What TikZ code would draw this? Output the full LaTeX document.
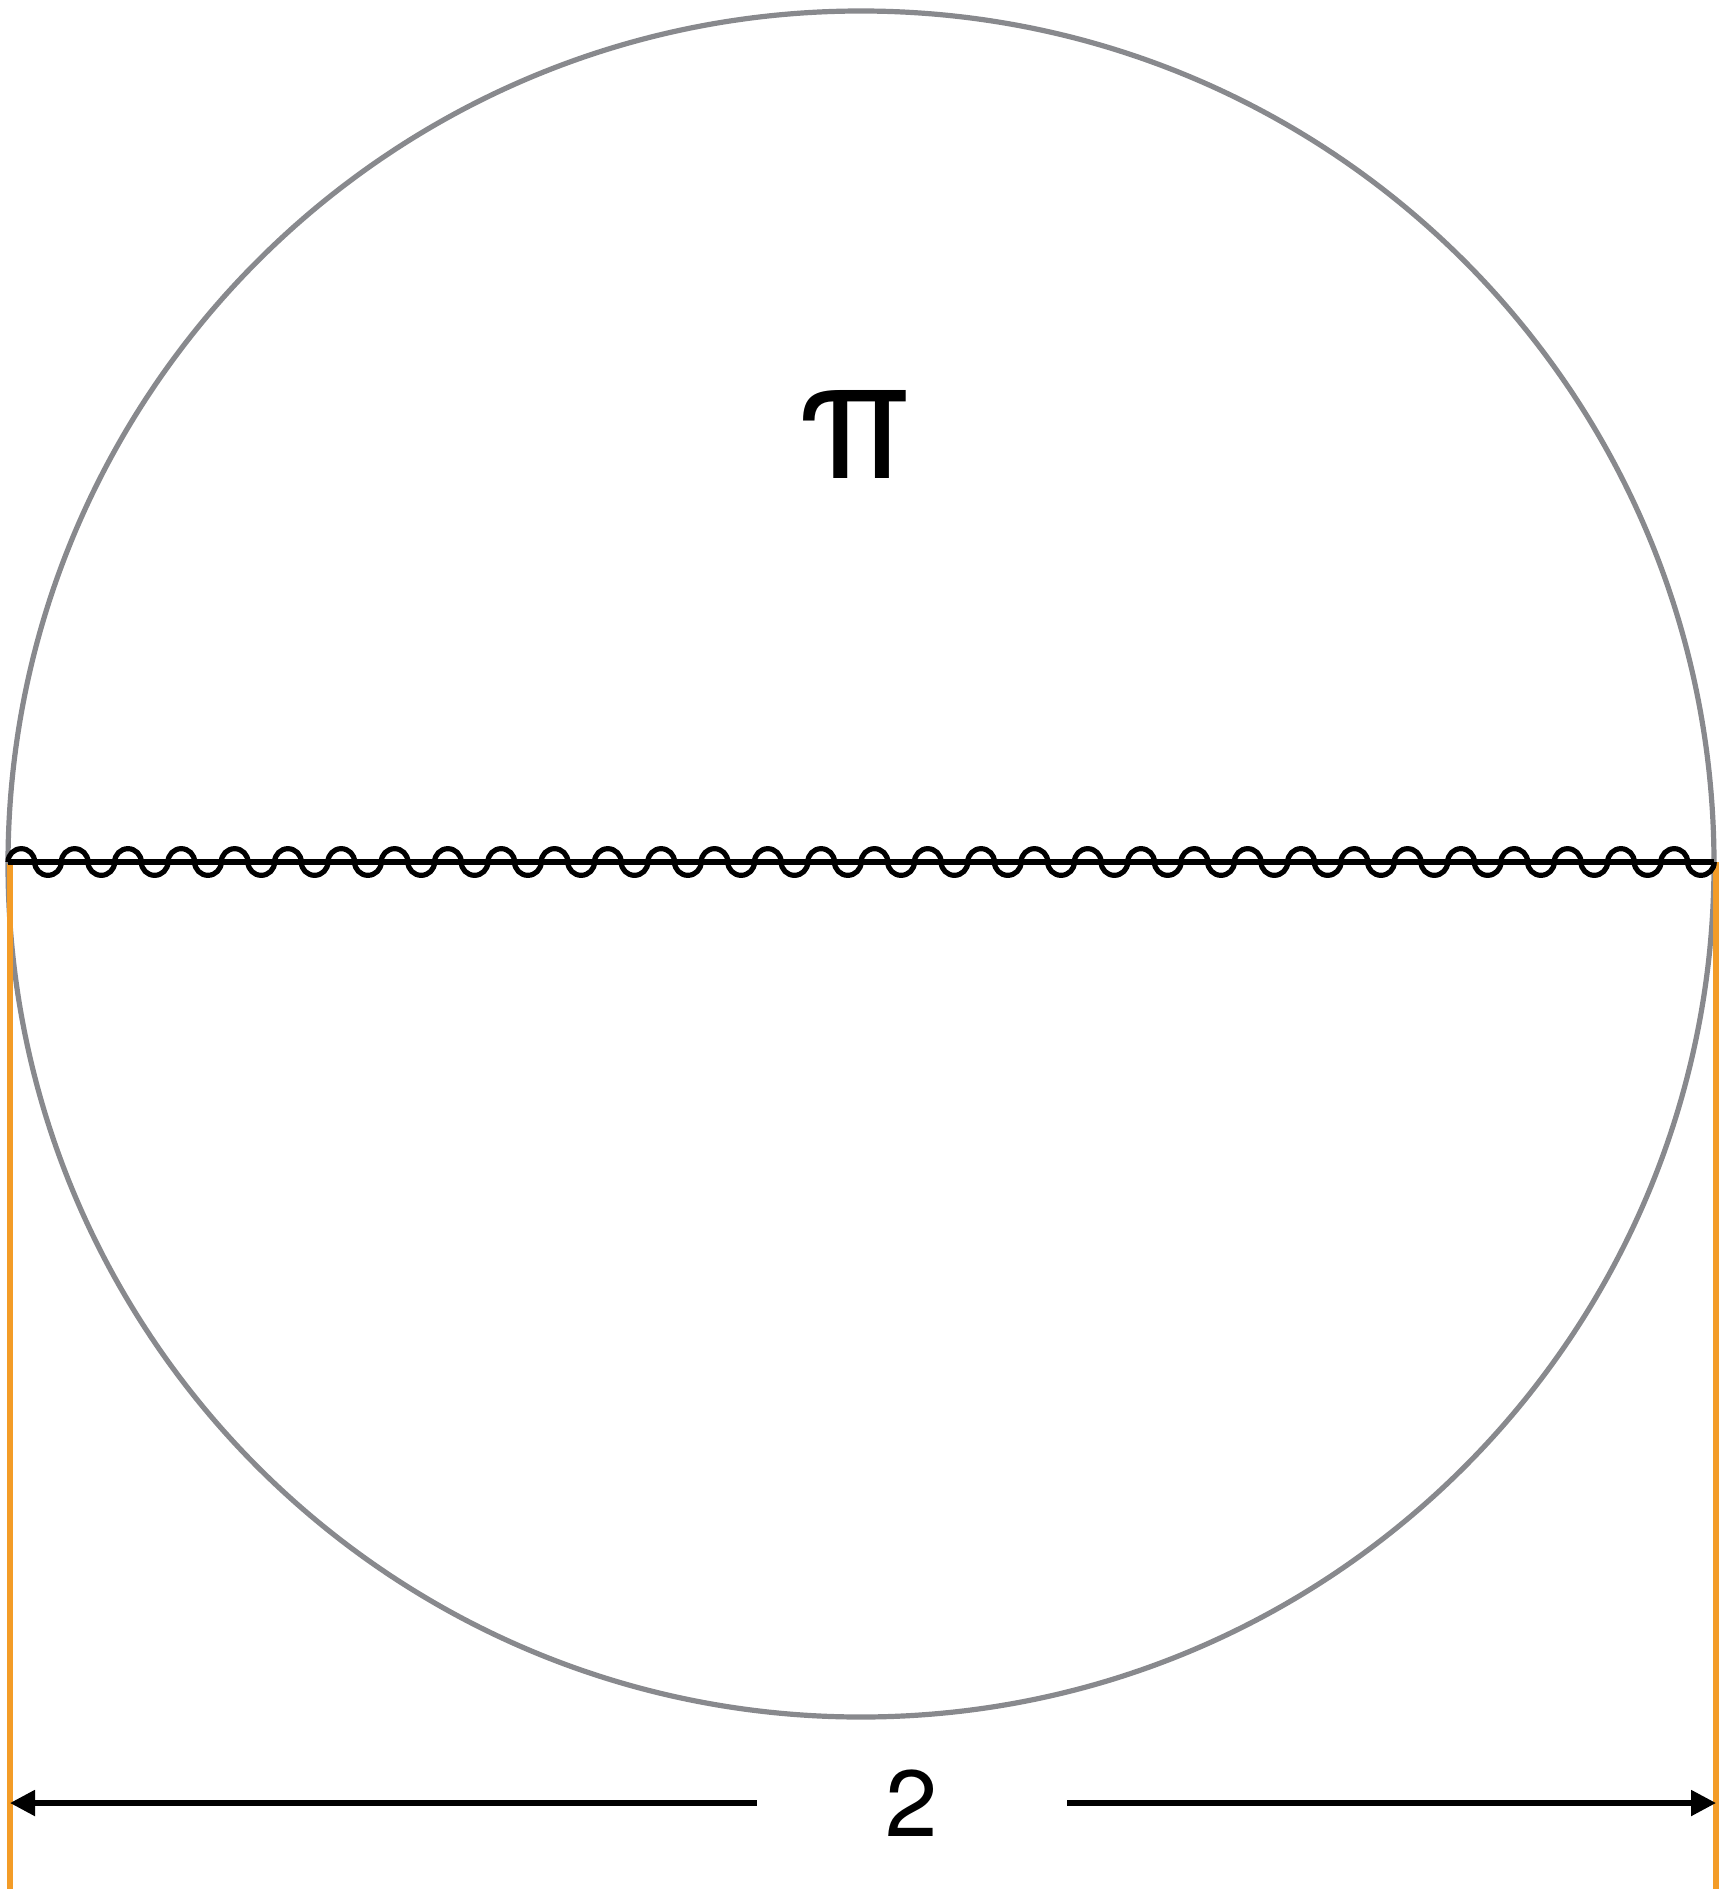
\documentclass[tikz,border=0pt]{standalone}
\usepackage{fontspec}
\setmainfont{TeX Gyre Heros}
\usepackage{tikz}
\usetikzlibrary{arrows.meta}
\definecolor{rimgray}{HTML}{88898D}
\definecolor{guideorange}{HTML}{F39C28}

\begin{document}
\begin{tikzpicture}[x=0.5pt,y=0.5pt,yscale=-1,xscale=1]
\useasboundingbox (0,0) rectangle (1723,1889);
\coordinate (ltop) at (10,864);
\coordinate (lbot) at (10,1889);
\coordinate (rtop) at (1716,862);
\coordinate (rbot) at (1716,1889);
\coordinate (lend) at (10,1803);
\coordinate (rend) at (1716,1803);
\coordinate (wl) at (8,862);
\coordinate (wr) at (1714,862);
\draw [rimgray, line width=2.6] (861,864) circle (853);
\draw [guideorange, line width=2.6] (ltop) -- (lbot);
\draw [guideorange, line width=2.6] (rtop) -- (rbot);
\draw [line width=2.6] (wl) -- (wr);
\draw [line width=2.6] (wl) \foreach \k in {1,...,32} {arc [start angle=180, end angle=360, radius=13.33] arc [start angle=180, end angle=0, radius=13.33]};
\node (pi) at (855,434) {\fontsize{84}{84}\selectfont π};
\node (two) [minimum width=155pt, inner sep=0pt] at (912,1803) {\fontsize{47}{47}\selectfont 2};
\draw [line width=2.6, -{Triangle[length=12.5pt,width=12.5pt]}] (two.west) -- (lend);
\draw [line width=2.6, -{Triangle[length=12.5pt,width=12.5pt]}] (two.east) -- (rend);
\end{tikzpicture}
\end{document}
